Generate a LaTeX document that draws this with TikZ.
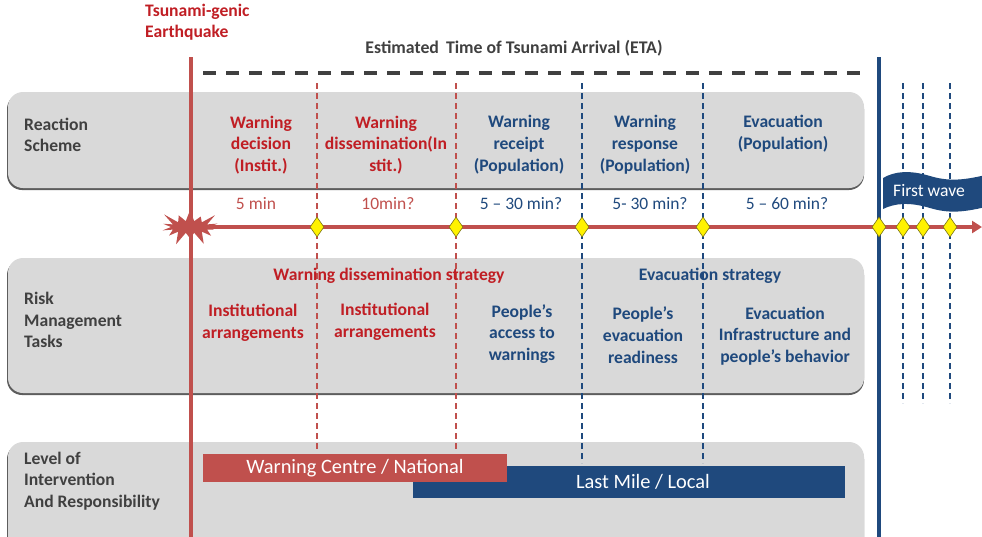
\documentclass[tikz,border=0pt]{standalone}
\usepackage{fontspec}
\setmainfont{Carlito}
\usetikzlibrary{shapes.symbols,shapes.geometric,arrows.meta,positioning}
\definecolor{lred}{RGB}{192,80,77}
\definecolor{tred}{RGB}{192,30,36}
\definecolor{dblue}{RGB}{31,73,125}
\definecolor{pgray}{RGB}{217,217,217}
\definecolor{dgray}{RGB}{64,64,64}
\begin{document}
\begin{tikzpicture}[x=1pt,y=-1pt,line join=round,
	panel/.style={fill=pgray,rounded corners=15pt},
	pshadow/.style={fill=dgray!85,rounded corners=15pt},
	side/.style={text=dgray,font=\bfseries\fontsize{17.6}{21.5}\selectfont,align=left,anchor=west,inner sep=0pt},
	rlbl/.style={text=tred,font=\bfseries\fontsize{17.6}{21.8}\selectfont,align=center,inner sep=0pt},
	blbl/.style={text=dblue,font=\bfseries\fontsize{17.6}{21.8}\selectfont,align=center,inner sep=0pt},
	tlbl/.style={font=\fontsize{17.5}{20}\selectfont,inner sep=0pt},
	rdash/.style={lred,line width=1.8pt,dash pattern=on 6pt off 4pt},
	bdash/.style={dblue,line width=1.8pt,dash pattern=on 6pt off 4pt},
	gate/.style={diamond,fill=yellow,draw=olive!80!black,line width=0.6pt,inner sep=0pt,minimum width=14pt,minimum height=20pt},
	bar/.style={text=white,font=\fontsize{20.4}{22}\selectfont,inner sep=0pt}]
	\clip (0,0) rectangle (982,536);
	% panels
	\foreach \a/\b in {92/188,258/393,442/560}{
		\fill[pshadow] (7,\a+2) rectangle (864,\b+2);
		\fill[panel] (8,\a) rectangle (864,\b);}
	% ETA line
	\coordinate (E1) at (203,73); \coordinate (E2) at (863,73);
	\draw[dgray,line width=4pt,dash pattern=on 13pt off 10pt] (E1)--(E2);
	\node[text=dgray,font=\bfseries\fontsize{17.8}{20}\selectfont] (eta) at (514,48) {Estimated\, Time of Tsunami Arrival (ETA)};
	% vertical lines
	\foreach \x/\s/\e in {317/rdash/450,456/rdash/450,582/bdash/463,703/bdash/463,903/bdash/403,923/bdash/403,950/bdash/403}{
		\coordinate (t\x) at (\x,83); \coordinate (b\x) at (\x,\e);
		\draw[\s] (t\x)--(b\x);}
	\coordinate (Q1) at (191,57); \coordinate (Q2) at (191,540);
	\draw[lred,line width=3.5pt] (Q1)--(Q2);
	\coordinate (W1) at (879,57); \coordinate (W2) at (879,540);
	\draw[dblue,line width=3.5pt] (W1)--(W2);
	% time line
	\node[starburst,fill=lred,starburst points=14,starburst point height=15pt,minimum width=68pt,minimum height=42pt,inner sep=0pt] (quake) at (190,227) {};
	\coordinate (tend) at (982,227);
	\draw[lred,line width=4pt,-{Triangle[length=10pt,width=12pt]}] (quake.center)--(tend);
	\foreach \x in {317,456,582,703,879,903,923,950}
		\node[gate] (g\x) at (\x,227) {};
	% first wave
	\fill[dblue] (883,178) .. controls (895,171) and (910,170) .. (930,176) .. controls (950,182) and (965,180) .. (990,174)
		-- (990,206) .. controls (965,212) and (950,214) .. (930,208) .. controls (910,202) and (895,203) .. (883,209) -- cycle;
	\node[text=white,font=\fontsize{17.6}{20}\selectfont] (wave) at (929,191) {First wave};
	% texts
	\node[text=tred,font=\bfseries\fontsize{17.6}{21}\selectfont,align=left,anchor=west,inner sep=0pt] (eq) at (145,22.5) {Tsunami-genic\\Earthquake};
	\node[side] (rs) at (24,135) {Reaction\\Scheme};
	\node[side] (rm) at (24,320) {Risk\\Management\\Tasks};
	\node[side] (lv) at (24,481) {Level of\\Intervention\\And Responsibility};
	\node[rlbl] (c1) at (261,145) {Warning\\decision\\(Instit.)};
	\node[rlbl] (c2) at (386,145) {Warning\\dissemination(In\\stit.)};
	\node[blbl] (c3) at (519,145) {Warning\\receipt\\(Population)};
	\node[blbl] (c4) at (645,145) {Warning\\response\\(Population)};
	\node[blbl] (c5) at (783,134) {Evacuation\\(Population)};
	\node[tlbl,text=lred] (m1) at (256,204) {5 min};
	\node[tlbl,text=lred] (m2) at (388,204) {10min?};
	\node[tlbl,text=dblue] (m3) at (521,204) {5 -- 30 min?};
	\node[tlbl,text=dblue] (m4) at (650,204) {5- 30 min?};
	\node[tlbl,text=dblue] (m5) at (787,204) {5 -- 60 min?};
	\node[rlbl] (s1) at (389,276) {Warning dissemination strategy};
	\node[blbl] (s2) at (710,276) {Evacuation strategy};
	\node[rlbl] (k1) at (253,323) {Institutional\\arrangements};
	\node[rlbl] (k2) at (385,322) {Institutional\\arrangements};
	\node[blbl] (k3) at (522,334) {People's\\access to\\warnings};
	\node[blbl] (k4) at (643,335) {People's\\evacuation\\readiness};
	\node[blbl] (k5) at (785,336) {Evacuation\\Infrastructure and\\people's behavior};
	% levels
	\node[bar,fill=dblue,minimum width=432pt,minimum height=32pt] (local) at (629,482) {\hspace*{28pt}Last Mile / Local};
	\node[bar,fill=lred,minimum width=304pt,minimum height=28pt] (natl) at (355,468) {Warning Centre / National};
\end{tikzpicture}
\end{document}
